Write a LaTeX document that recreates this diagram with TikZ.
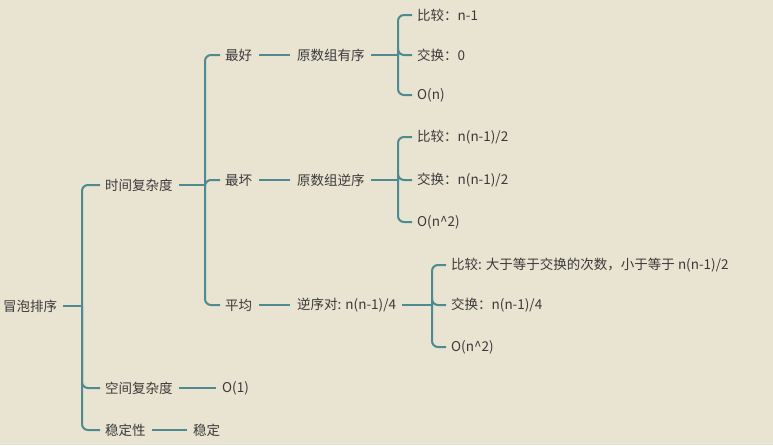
\documentclass[tikz,border=0pt]{standalone}
\usepackage{fontspec}
\setmainfont{Noto Sans CJK SC}
\definecolor{bg}{HTML}{E9E3D1}
\definecolor{branch}{HTML}{4E8A92}
\definecolor{txt}{HTML}{3A3A3A}

\tikzset{
	item/.style={anchor=west, inner sep=1pt, text=txt, font=\fontsize{13.5}{15}\selectfont},
	link/.style={draw=branch, line width=2pt, rounded corners=6pt, shorten >=4pt}
}

\begin{document}
\begin{tikzpicture}[x=1pt, y=-1pt]
		\fill[bg] (0,0) rectangle (773,445);
		\useasboundingbox (0,0) rectangle (773,445);
		% root and first level
		\node[item] (root) at (2, 306) {冒泡排序};
		\node[item] (time) at (104, 185) {时间复杂度};
		\node[item] (space) at (104, 388) {空间复杂度};
		\node[item] (stab) at (104, 430) {稳定性};
		\coordinate (j0) at (82, 306);
		\draw[link, shorten >=0pt] (root.east) ++(5,0) -- (j0);
		\draw[link] (j0) |- (time.west);
		\draw[link] (j0) |- (space.west);
		\draw[link] (j0) |- (stab.west);
		\node[item] (o1) at (221, 388) {O(1)};
		\draw[link] (space.east) ++(5,0) -- ([xshift=-1pt]o1.west);
		\node[item] (stable) at (192, 430) {稳定};
		\draw[link] (stab.east) ++(5,0) -- ([xshift=-1pt]stable.west);
		% time complexity cases
		\node[item] (best) at (224, 55) {最好};
		\node[item] (worst) at (224, 180) {最坏};
		\node[item] (avg) at (224, 305) {平均};
		\coordinate (j1) at (205, 185);
		\draw[link, shorten >=0pt] (time.east) ++(5,0) -- (j1);
		\draw[link] (j1) |- (best.west);
		\draw[link] (j1) |- (worst.west);
		\draw[link] (j1) |- (avg.west);
		\node[item] (sorted) at (296, 55) {原数组有序};
		\node[item] (rev) at (296, 180) {原数组逆序};
		\node[item] (inv) at (296, 305) {逆序对: n(n-1)/4};
		\draw[link] (best.east) ++(6,0) -- ([xshift=-2pt]sorted.west);
		\draw[link] (worst.east) ++(6,0) -- ([xshift=-2pt]rev.west);
		\draw[link] (avg.east) ++(6,0) -- ([xshift=-2pt]inv.west);
		% best case
		\coordinate (j2) at (398, 55);
		\draw[link, shorten >=0pt] (sorted.east) ++(5,0) -- (j2);
		\foreach \y/\t [count=\i] in {15/{比较：n-1}, 55/{交换：0}, 95/{O(n)}}
		{
			\node[item] (b\i) at (416, \y) {\t};
			\draw[link] (j2) |- (b\i.west);
		}
		% worst case
		\coordinate (j3) at (398, 180);
		\draw[link, shorten >=0pt] (rev.east) ++(5,0) -- (j3);
		\foreach \y/\t [count=\i] in {137/{比较：n(n-1)/2}, 180/{交换：n(n-1)/2}, 222/{O(n\textasciicircum2)}}
		{
			\node[item] (w\i) at (416, \y) {\t};
			\draw[link] (j3) |- (w\i.west);
		}
		% average case
		\coordinate (j4) at (432, 305);
		\draw[link, shorten >=0pt] (inv.east) ++(5,0) -- (j4);
		\foreach \y/\t [count=\i] in {265/{比较: 大于等于交换的次数，小于等于 n(n-1)/2}, 305/{交换：n(n-1)/4}, 347/{O(n\textasciicircum2)}}
		{
			\node[item] (a\i) at (450, \y) {\t};
			\draw[link] (j4) |- (a\i.west);
		}
	\end{tikzpicture}
\end{document}
